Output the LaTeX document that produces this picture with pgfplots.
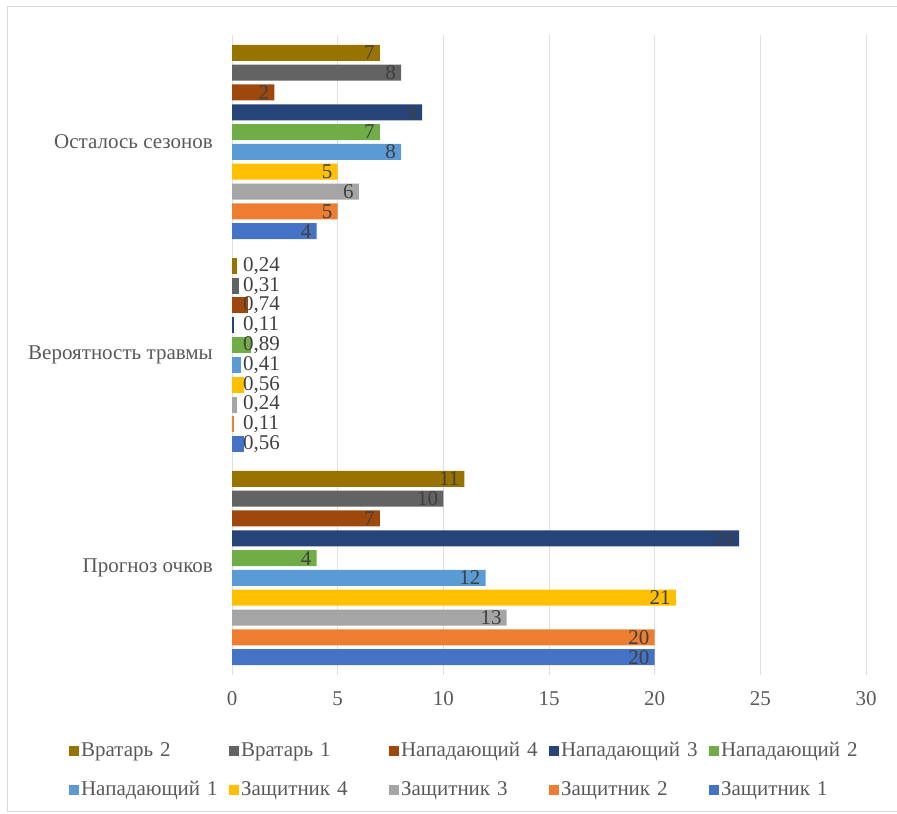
\documentclass[border=0pt]{standalone}
\usepackage{fontspec}
\setmainfont{Liberation Serif}
\usepackage{pgfplots}
\usepackage{pgfplotstable}
\pgfplotsset{compat=1.18}

\definecolor{cZa}{HTML}{4472C4}
\definecolor{cZb}{HTML}{ED7D31}
\definecolor{cZc}{HTML}{A5A5A5}
\definecolor{cZd}{HTML}{FFC000}
\definecolor{cNa}{HTML}{5B9BD5}
\definecolor{cNb}{HTML}{70AD47}
\definecolor{cNc}{HTML}{264478}
\definecolor{cNd}{HTML}{9E480E}
\definecolor{cVa}{HTML}{636363}
\definecolor{cVb}{HTML}{997300}
\definecolor{txt}{HTML}{404040}
\definecolor{tick}{HTML}{595959}

% cat: 0 = Прогноз очков, 2 = Осталось сезонов
\pgfplotstableread{
cat za zb zc zd na nb nc nd va vb
0 20 20 13 21 12 4 24 7 10 11
2 4 5 6 5 8 7 9 2 8 7
}\data
% cat 1 = Вероятность травмы (labels with decimal comma)
\pgfplotstableread{
cat za zal zb zbl zc zcl zd zdl na nal nb nbl nc ncl nd ndl va val vb vbl
1 0.56 0,56 0.11 0,11 0.24 0,24 0.56 0,56 0.41 0,41 0.89 0,89 0.11 0,11 0.74 0,74 0.31 0,31 0.24 0,24
}\prob

\pgfplotsset{
  probstyle/.style={forget plot, point meta=explicit symbolic,
    visualization depends on={x \as \myx},
    every node near coord/.append style={anchor=west, xshift={(0.66-\myx)*21.13*1.00375}}},
}

\begin{document}
\fontsize{21bp}{25bp}\selectfont
\begin{tikzpicture}
\path[use as bounding box] (0,0) rectangle (897bp,814bp);
\draw[gray!30, line width=1bp] (7.5bp,2bp) rectangle (900bp,807bp);
\begin{axis}[
    at={(232bp,139.5bp)}, anchor=south west,
    scale only axis,
    width=634bp, height=639bp,
    xbar, bar width=0.075,
    xmin=0, xmax=30,
    ymin=-0.5, ymax=2.5,
    xtick={0,5,...,30},
    ytick={0,1,2},
    yticklabels={Прогноз очков, Вероятность травмы, Осталось сезонов},
    axis line style={draw=none},
    major tick length=0pt,
    xmajorgrids, grid style={gray!25, line width=1bp},
    tick label style={text=tick},
    yticklabel style={xshift=-12bp},
    xticklabel style={yshift=-10bp},
    /pgf/number format/assume math mode=true,
    nodes near coords,
    every node near coord/.append style={text=txt, anchor=east, xshift=-4bp, inner sep=1bp,
        /pgf/number format/assume math mode=true},
    legend columns=5,
    reverse legend,
    legend image code/.code={\fill[#1, draw=none] (0bp,-5bp) rectangle (10bp,5bp);},
    legend style={draw=none, fill=none, at={(-0.262,-0.099)}, anchor=north west,
        nodes={text width=146bp, inner xsep=2bp, inner ysep=2bp, text=tick},
        /tikz/every even column/.append style={column sep=0bp},
        row sep=18bp},
]
\addplot[fill=cZa, draw=none, bar shift=-0.4185] table[x=za, y=cat] {\data};
\addlegendentry{Защитник 1}
\addplot[fill=cZb, draw=none, bar shift=-0.3255] table[x=zb, y=cat] {\data};
\addlegendentry{Защитник 2}
\addplot[fill=cZc, draw=none, bar shift=-0.2325] table[x=zc, y=cat] {\data};
\addlegendentry{Защитник 3}
\addplot[fill=cZd, draw=none, bar shift=-0.1395] table[x=zd, y=cat] {\data};
\addlegendentry{Защитник 4}
\addplot[fill=cNa, draw=none, bar shift=-0.0465] table[x=na, y=cat] {\data};
\addlegendentry{Нападающий 1}
\addplot[fill=cNb, draw=none, bar shift=0.0465] table[x=nb, y=cat] {\data};
\addlegendentry{Нападающий 2}
\addplot[fill=cNc, draw=none, bar shift=0.1395] table[x=nc, y=cat] {\data};
\addlegendentry{Нападающий 3}
\addplot[fill=cNd, draw=none, bar shift=0.2325] table[x=nd, y=cat] {\data};
\addlegendentry{Нападающий 4}
\addplot[fill=cVa, draw=none, bar shift=0.3255] table[x=va, y=cat] {\data};
\addlegendentry{Вратарь 1}
\addplot[fill=cVb, draw=none, bar shift=0.4185] table[x=vb, y=cat] {\data};
\addlegendentry{Вратарь 2}

\addplot[fill=cZa, draw=none, bar shift=-0.4185, probstyle] table[x=za, y=cat, meta=zal] {\prob};
\addplot[fill=cZb, draw=none, bar shift=-0.3255, probstyle] table[x=zb, y=cat, meta=zbl] {\prob};
\addplot[fill=cZc, draw=none, bar shift=-0.2325, probstyle] table[x=zc, y=cat, meta=zcl] {\prob};
\addplot[fill=cZd, draw=none, bar shift=-0.1395, probstyle] table[x=zd, y=cat, meta=zdl] {\prob};
\addplot[fill=cNa, draw=none, bar shift=-0.0465, probstyle] table[x=na, y=cat, meta=nal] {\prob};
\addplot[fill=cNb, draw=none, bar shift=0.0465, probstyle] table[x=nb, y=cat, meta=nbl] {\prob};
\addplot[fill=cNc, draw=none, bar shift=0.1395, probstyle] table[x=nc, y=cat, meta=ncl] {\prob};
\addplot[fill=cNd, draw=none, bar shift=0.2325, probstyle] table[x=nd, y=cat, meta=ndl] {\prob};
\addplot[fill=cVa, draw=none, bar shift=0.3255, probstyle] table[x=va, y=cat, meta=val] {\prob};
\addplot[fill=cVb, draw=none, bar shift=0.4185, probstyle] table[x=vb, y=cat, meta=vbl] {\prob};
\end{axis}
\end{tikzpicture}
\end{document}
